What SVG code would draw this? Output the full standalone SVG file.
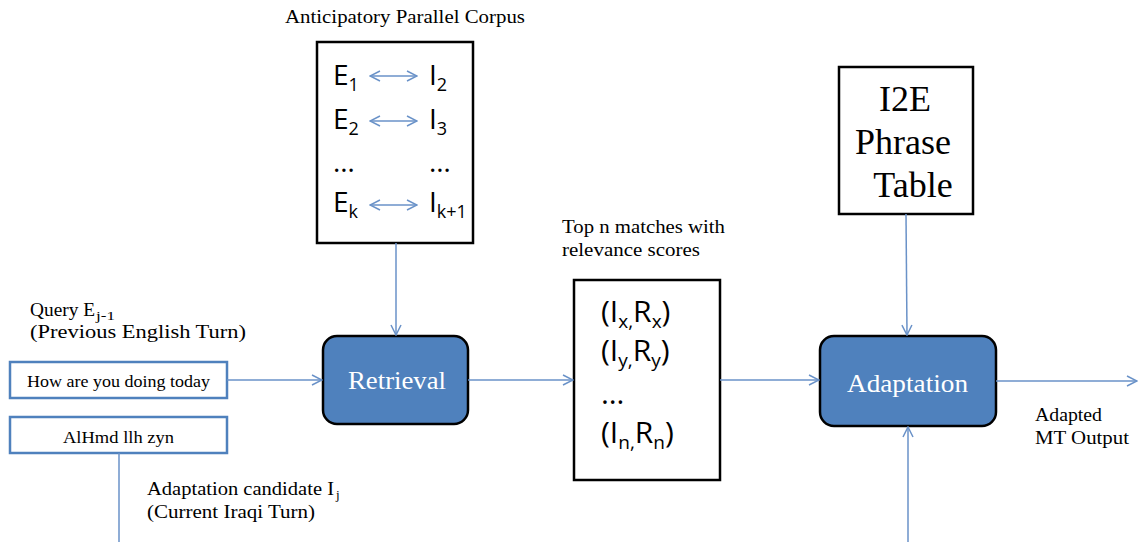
<svg xmlns="http://www.w3.org/2000/svg" width="1138" height="542" viewBox="0 0 1138 542">
<style>
.bg{fill:#fff}
.box{fill:#fff;stroke:#000;stroke-width:2.5}
.proc{fill:#4f81bd;stroke:#000;stroke-width:2.5}
.inp{fill:#fff;stroke:#4f81bd;stroke-width:2.5}
.ser{font-family:"Liberation Serif",serif;fill:#000}
.san{font-family:"Open Sans","Liberation Sans",sans-serif;fill:#000}
.ptxt{font-family:"Liberation Serif",serif;fill:#fff;font-size:26px}
.con{stroke:#6a92c8;stroke-width:1.5;fill:none}
</style>
<defs>
<marker id="ah" viewBox="0 0 12 12" refX="11" refY="6" markerWidth="12" markerHeight="12" markerUnits="userSpaceOnUse" orient="auto-start-reverse">
<path d="M1,1 L11,6 L1,11" fill="none" stroke="#6a92c8" stroke-width="1.5"/>
</marker>
</defs>
<rect class="bg" width="1138" height="542"/>

<g id="corpus">
<text class="ser" x="285" y="23" font-size="18" textLength="240" lengthAdjust="spacingAndGlyphs">Anticipatory Parallel Corpus</text>
<rect class="box" x="317" y="42" width="156" height="201"/>
<g class="san" font-size="28">
<text x="333" y="85">E<tspan font-size="18" dy="6">1</tspan></text>
<text x="429" y="85">I<tspan font-size="18" dy="6">2</tspan></text>
<text x="333" y="129">E<tspan font-size="18" dy="6">2</tspan></text>
<text x="429" y="129">I<tspan font-size="18" dy="6">3</tspan></text>
<text x="333" y="172">…</text>
<text x="429" y="172">…</text>
<text x="333" y="212">E<tspan font-size="18" dy="6">k</tspan></text>
<text x="429" y="212">I<tspan font-size="18" dy="6">k+1</tspan></text>
</g>
<line class="con" x1="370" y1="76" x2="417" y2="76" marker-start="url(#ah)" marker-end="url(#ah)"/>
<line class="con" x1="370" y1="121" x2="417" y2="121" marker-start="url(#ah)" marker-end="url(#ah)"/>
<line class="con" x1="370" y1="205" x2="417" y2="205" marker-start="url(#ah)" marker-end="url(#ah)"/>
</g>

<g id="query">
<text class="ser" x="30" y="316" font-size="18" textLength="65" lengthAdjust="spacingAndGlyphs">Query E</text>
<text class="ser" x="96" y="320" font-size="13" textLength="19" lengthAdjust="spacingAndGlyphs">j-1</text>
<text class="ser" x="30" y="338" font-size="18" textLength="216" lengthAdjust="spacingAndGlyphs">(Previous  English  Turn)</text>
<rect class="inp" x="10" y="362" width="217" height="36"/>
<text class="ser" x="27" y="387" font-size="17" textLength="183" lengthAdjust="spacingAndGlyphs">How are you doing today</text>
</g>

<g id="candidate">
<rect class="inp" x="10" y="417" width="217" height="36"/>
<text class="ser" x="63" y="443" font-size="17" textLength="111" lengthAdjust="spacingAndGlyphs">AlHmd llh zyn</text>
<text class="ser" x="147" y="495" font-size="18" textLength="187" lengthAdjust="spacingAndGlyphs">Adaptation  candidate  I</text>
<text class="ser" x="336" y="499" font-size="13">j</text>
<text class="ser" x="147" y="518" font-size="18" textLength="168" lengthAdjust="spacingAndGlyphs">(Current Iraqi Turn)</text>
</g>

<g id="retrieval">
<rect class="proc" x="323" y="336" width="145" height="88" rx="14"/>
<text class="ptxt" x="348" y="389" textLength="98" lengthAdjust="spacingAndGlyphs">Retrieval</text>
</g>

<g id="topn">
<text class="ser" x="562" y="233" font-size="18" textLength="163" lengthAdjust="spacingAndGlyphs">Top n matches with</text>
<text class="ser" x="562" y="256" font-size="18" textLength="138" lengthAdjust="spacingAndGlyphs">relevance scores</text>
<rect class="box" x="574" y="280" width="146" height="200"/>
<g class="san" font-size="30">
<text x="601" y="322">(I<tspan font-size="19" dy="6">x,</tspan><tspan dy="-6">R</tspan><tspan font-size="19" dy="6">x</tspan><tspan dy="-6">)</tspan></text>
<text x="601" y="361">(I<tspan font-size="19" dy="6">y,</tspan><tspan dy="-6">R</tspan><tspan font-size="19" dy="6">y</tspan><tspan dy="-6">)</tspan></text>
<text x="601" y="404">…</text>
<text x="601" y="443">(I<tspan font-size="19" dy="6">n,</tspan><tspan dy="-6">R</tspan><tspan font-size="19" dy="6">n</tspan><tspan dy="-6">)</tspan></text>
</g>
</g>

<g id="phrasetable">
<rect class="box" x="839" y="67" width="134" height="147"/>
<g class="ser" font-size="36" text-anchor="middle">
<text x="905" y="111">I2E</text>
<text x="903" y="154">Phrase</text>
<text x="913" y="197">Table</text>
</g>
</g>

<g id="adaptation">
<rect class="proc" x="820" y="336" width="176" height="90" rx="14"/>
<text class="ptxt" x="847" y="392" textLength="121" lengthAdjust="spacingAndGlyphs">Adaptation</text>
</g>

<g id="output">
<text class="ser" x="1035" y="421" font-size="18" textLength="67" lengthAdjust="spacingAndGlyphs">Adapted</text>
<text class="ser" x="1035" y="444" font-size="18" textLength="94" lengthAdjust="spacingAndGlyphs">MT Output</text>
</g>

<g id="connectors">
<line class="con" x1="396" y1="243" x2="396" y2="335" marker-end="url(#ah)"/>
<line class="con" x1="227" y1="380" x2="322" y2="380" marker-end="url(#ah)"/>
<line class="con" x1="468" y1="380" x2="573" y2="380" marker-end="url(#ah)"/>
<line class="con" x1="720" y1="380" x2="819" y2="380" marker-end="url(#ah)"/>
<line class="con" x1="906" y1="214" x2="907" y2="335" marker-end="url(#ah)"/>
<line class="con" x1="908" y1="542" x2="908" y2="427" marker-end="url(#ah)"/>
<line class="con" x1="996" y1="381" x2="1137" y2="381" marker-end="url(#ah)"/>
<line class="con" x1="119" y1="453" x2="119" y2="542"/>
</g>
</svg>
